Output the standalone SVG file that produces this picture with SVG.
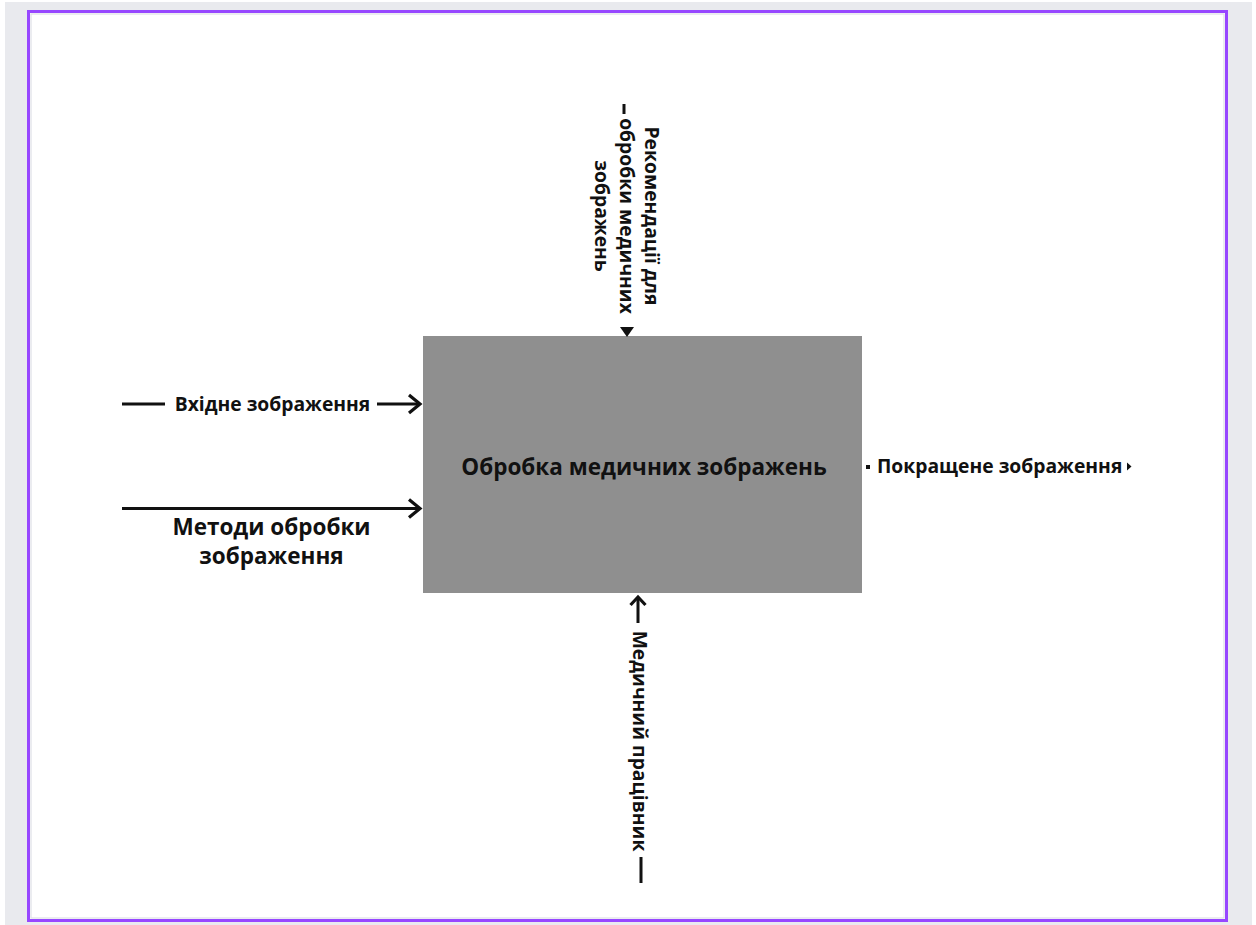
<svg xmlns="http://www.w3.org/2000/svg" width="1256" height="925" viewBox="0 0 1256 925">
  <style>
    text { font-family: "Open Sans", "Noto Sans", "DejaVu Sans", sans-serif; font-weight: 700; fill: #111111; }
    .lbl { font-size: 19.3px; }
    .conn { fill: none; stroke: #111111; stroke-width: 3; stroke-linecap: butt; stroke-linejoin: miter; }
    .head { fill: none; stroke: #111111; stroke-width: 3.2; stroke-linejoin: miter; stroke-linecap: butt; }
  </style>
  <rect x="0" y="0" width="1256" height="925" fill="#ffffff"/>
  <rect x="5" y="2" width="1247" height="923" fill="#e9eaee"/>
  <rect x="28.5" y="11.5" width="1198" height="909" fill="#ffffff" stroke="#9747ff" stroke-width="3"/>
  <rect x="31" y="14" width="1193" height="904" fill="none" stroke="#dedfe6" stroke-width="1.2"/>

  <g id="node-main">
    <rect x="423" y="336" width="439" height="257" fill="#8f8f8f"/>
    <text x="644" y="475" font-size="22.5" text-anchor="middle">Обробка медичних зображень</text>
  </g>

  <g id="connectors">
    <g id="conn-input">
      <path class="conn" d="M122,404 H165 M377,404 H419"/>
      <path class="head" d="M409,395 L420,404 L409,413"/>
    </g>
    <g id="conn-methods">
      <path class="conn" d="M122,508.5 H419"/>
      <path class="head" d="M409,499.5 L420,508.5 L409,517.5"/>
    </g>
    <g id="conn-control">
      <path class="conn" d="M624,104 V114"/>
      <path d="M620,327 L634,327 L627,337 Z" fill="#111111"/>
    </g>
    <g id="conn-mechanism">
      <path class="conn" d="M638,598 V623 M641,857 V883"/>
      <path class="head" d="M630.5,605 L638,597 L645.5,605"/>
    </g>
    <g id="conn-output">
      <rect x="866" y="465" width="4" height="4" fill="#111111"/>
      <path d="M1127,462.5 L1131.5,466.5 L1127,470.5 Z" fill="#111111"/>
    </g>
  </g>

  <g id="label-input">
    <text class="lbl" x="272.5" y="411" text-anchor="middle">Вхідне зображення</text>
  </g>
  <g id="label-methods">
    <text x="271.5" y="535" font-size="22.5" text-anchor="middle">Методи обробки</text>
    <text x="271.5" y="564" font-size="22.5" text-anchor="middle">зображення</text>
  </g>
  <g id="label-control" transform="translate(645,216) rotate(90)">
    <text class="lbl" x="0" y="0" text-anchor="middle">Рекомендації для</text>
    <text class="lbl" x="0" y="25" text-anchor="middle">обробки медичних</text>
    <text class="lbl" x="0" y="50" text-anchor="middle">зображень</text>
  </g>
  <g id="label-mechanism" transform="translate(633,741) rotate(90)">
    <text class="lbl" x="0" y="0" text-anchor="middle">Медичний працівник</text>
  </g>
  <g id="label-output">
    <text class="lbl" x="877" y="473">Покращене зображення</text>
  </g>
</svg>
